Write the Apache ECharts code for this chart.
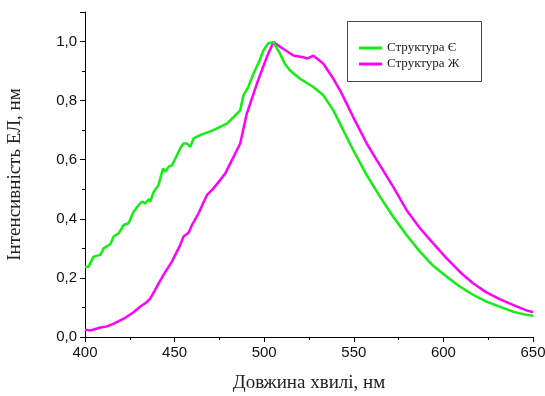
<!DOCTYPE html>
<html><head><meta charset="utf-8">
<script src="https://cdn.jsdelivr.net/npm/echarts@6/dist/echarts.min.js"></script>
<style>html,body{margin:0;padding:0;background:#fff}#c{width:545px;height:396px}</style>
</head><body><div id="c"></div>
<script>
const seriesNames = ['Структура Є', 'Структура Ж'];
const wlE = [400,402,404.8,408.6,410.4,414.2,416,418.8,421.6,424.3,427.1,430,431.8,433.6,435.5,436.4,438.3,441,443.5,444.8,446.6,448.5,450.4,453.1,455,456.9,458.7,460.6,464.3,471.7,475.4,479.2,483,486.6,488.4,491,494,497,499.6,502.3,505.1,508.9,511.5,514.4,520,527.4,533,538.6,542.3,546,549.7,557.2,564.6,572,579.4,586.9,594.3,601.7,609.1,616.5,624,631.4,638.8,646.3,650];
const valE = [0.238,0.238,0.272,0.278,0.300,0.315,0.340,0.351,0.379,0.385,0.424,0.447,0.458,0.452,0.466,0.458,0.491,0.514,0.570,0.559,0.576,0.581,0.604,0.638,0.655,0.655,0.643,0.672,0.683,0.700,0.711,0.722,0.745,0.767,0.818,0.845,0.891,0.930,0.970,0.994,0.998,0.958,0.925,0.902,0.874,0.846,0.818,0.767,0.722,0.677,0.632,0.548,0.475,0.407,0.345,0.289,0.241,0.205,0.171,0.143,0.120,0.103,0.086,0.075,0.072];
const wlZh = [400,403,408.6,412.3,416,421.6,427.1,430.9,434,436.4,439.2,443.8,448.5,453.1,455,457.8,459.7,463.3,468,471.7,475.4,478.2,481,486.6,490.3,495.9,501.4,505.1,510.7,516.3,521.8,524,527.4,530,533,538.6,542.3,546,550.6,557.2,564.6,572,579.4,586.9,594.3,601.7,609.1,616.5,624,631.4,638.8,646.3,650];
const valZh = [0.025,0.022,0.032,0.036,0.045,0.062,0.084,0.103,0.116,0.130,0.160,0.210,0.255,0.311,0.340,0.353,0.379,0.418,0.480,0.503,0.531,0.553,0.587,0.655,0.756,0.857,0.947,0.998,0.975,0.953,0.947,0.942,0.952,0.940,0.925,0.874,0.835,0.790,0.733,0.655,0.581,0.508,0.430,0.368,0.317,0.267,0.221,0.182,0.151,0.128,0.109,0.090,0.084];

const pair = (xs, ys) => xs.map((x, i) => [x, ys[i]]);
const chart = echarts.init(document.getElementById('c'), null, {renderer: 'canvas'});
const axisCommon = {
  axisLine: {show: true, onZero: false, lineStyle: {color: '#000', width: 1}},
  axisTick: {show: true, inside: false, length: 5, lineStyle: {color: '#000'}},
  minorTick: {show: true, splitNumber: 2, length: 3, lineStyle: {color: '#000'}},
  splitLine: {show: false},
  axisLabel: {color: '#111', fontFamily: 'Liberation Sans, Arial', fontSize: 15}
};
chart.setOption({
  animation: false,
  backgroundColor: '#fff',
  grid: {left: 85, right: 12, top: 12, bottom: 59, containLabel: false, outerBoundsMode: 'none'},
  xAxis: Object.assign({}, axisCommon, {
    type: 'value', min: 400, max: 650, interval: 50,
    name: 'Довжина хвилі, нм', nameLocation: 'middle', nameGap: 37,
    nameTextStyle: {fontFamily: 'Liberation Serif, Times New Roman', fontSize: 19, color: '#222'},
    axisLabel: Object.assign({}, axisCommon.axisLabel, {margin: 8})
  }),
  yAxis: Object.assign({}, axisCommon, {
    type: 'value', min: 0, max: 1.1, interval: 0.2,
    name: 'Інтенсивність ЕЛ, нм', nameLocation: 'middle', nameGap: 60,
    nameTextStyle: {fontFamily: 'Liberation Serif, Times New Roman', fontSize: 19, color: '#222'},
    axisLabel: Object.assign({}, axisCommon.axisLabel, {
      margin: 8, showMaxLabel: false,
      formatter: v => (v > 1.05 ? '' : v.toFixed(1).replace('.', ','))
    })
  }),
  legend: {
    orient: 'vertical', left: 354, top: 36, icon: 'rect',
    itemWidth: 23, itemHeight: 3, itemGap: 2,
    textStyle: {fontFamily: 'Liberation Serif, Times New Roman', fontSize: 13, color: '#222', lineHeight: 14},
    data: seriesNames
  },
  graphic: [{
    type: 'rect', left: 347, top: 21, z: 0,
    shape: {width: 134, height: 60},
    style: {fill: '#fff', stroke: '#444', lineWidth: 1}
  }],
  series: [
    {name: seriesNames[0], type: 'line', data: pair(wlE, valE), showSymbol: false, symbol: 'none',
     lineStyle: {color: '#11ee11', width: 2.5}, itemStyle: {color: '#11ee11'}, z: 3},
    {name: seriesNames[1], type: 'line', data: pair(wlZh, valZh), showSymbol: false, symbol: 'none',
     lineStyle: {color: '#ff00ff', width: 2.5}, itemStyle: {color: '#ff00ff'}, z: 2}
  ]
});
</script></body></html>
